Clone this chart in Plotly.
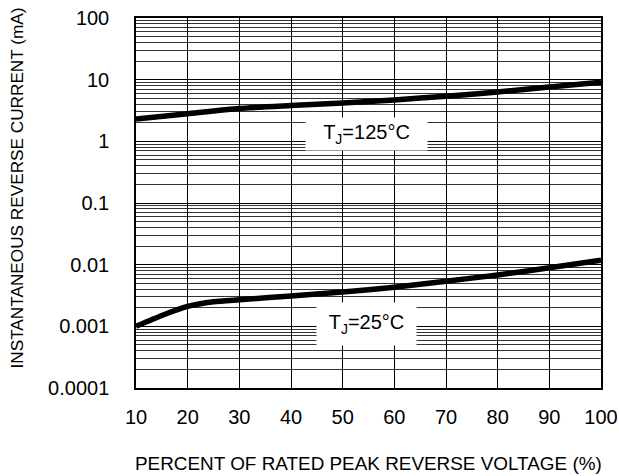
import plotly.graph_objects as go

# Data
voltage_pct = [10, 20, 30, 40, 50, 60, 70, 80, 90, 100]
ir_125C = [2.3, 2.8, 3.4, 3.8, 4.2, 4.7, 5.4, 6.3, 7.6, 9.1]
voltage_pct_25 = [10, 15, 20, 25, 30, 40, 50, 60, 70, 80, 90, 100]
ir_25C = [0.001, 0.0015, 0.0021, 0.0025, 0.0027, 0.0031, 0.0036, 0.0043, 0.0054, 0.0068, 0.0089, 0.0118]

y_tickvals = [0.0001, 0.001, 0.01, 0.1, 1, 10, 100]
y_ticktext = ["0.0001", "0.001", "0.01", "0.1", "1", "10", "100"]
x_tickvals = [10, 20, 30, 40, 50, 60, 70, 80, 90, 100]

label_125 = "T<sub>J</sub>=125°C"
label_25 = "T<sub>J</sub>=25°C"
x_title = "PERCENT OF RATED PEAK REVERSE VOLTAGE (%)"
y_title = "INSTANTANEOUS REVERSE CURRENT (mA)"

FONT = "Liberation Sans, Arial, sans-serif"

W, H = 619, 476
L, T, R, B = 136, 18, 18, 88
pw, ph = W - L - R, H - T - B

fig = go.Figure()
fig.add_trace(go.Scatter(x=voltage_pct, y=ir_125C, mode="lines",
                         line=dict(color="black", width=5.5, shape="spline", smoothing=0.6),
                         showlegend=False))
fig.add_trace(go.Scatter(x=voltage_pct_25, y=ir_25C, mode="lines",
                         line=dict(color="black", width=5.5, shape="spline", smoothing=0.6),
                         showlegend=False))

fig.add_annotation(x=54.6, y=0.127, xref="x", yref="y", yanchor="middle",
                   text=label_125, showarrow=False, bgcolor="white", borderpad=0,
                   width=121, height=32, font=dict(size=20, color="black", family=FONT))
fig.add_annotation(x=54.6, y=-2.954, xref="x", yref="y", yanchor="middle",
                   text=label_25, showarrow=False, bgcolor="white", borderpad=0,
                   width=99, height=42, font=dict(size=20, color="black", family=FONT))

# axis titles as annotations for precise placement
fig.add_annotation(xref="paper", yref="paper", x=0.5, y=(H - 463 - B) / ph,
                   xanchor="center", yanchor="middle", text=x_title,
                   showarrow=False, font=dict(size=18.9, color="black", family=FONT))
fig.add_annotation(xref="paper", yref="paper", x=(17 - L) / pw,
                   y=(H - 188.5 - B) / ph, xanchor="center", yanchor="middle",
                   text=y_title, textangle=-90, showarrow=False,
                   font=dict(size=17.2, color="black", family=FONT))

fig.update_xaxes(range=[10, 100], tickvals=x_tickvals, showgrid=True,
                 gridcolor="black", gridwidth=1, showline=True, mirror=True,
                 linecolor="black", linewidth=1.5, ticks="", zeroline=False,
                 automargin=False, ticklabelstandoff=10, ticklabeloverflow="allow",
                 tickfont=dict(size=20, color="black", family=FONT))
fig.update_yaxes(type="log", range=[-4, 2], tickvals=y_tickvals, ticktext=y_ticktext,
                 showgrid=True, gridcolor="black", gridwidth=1,
                 minor=dict(dtick="D1", showgrid=True, gridcolor="#333333", gridwidth=1, ticks=""),
                 showline=True, mirror=True, linecolor="black", linewidth=1.5, ticks="",
                 automargin=False, ticklabelstandoff=21, ticklabeloverflow="allow",
                 tickfont=dict(size=20, color="black", family=FONT))

fig.update_layout(width=W, height=H, margin=dict(l=L, r=R, t=T, b=B),
                  plot_bgcolor="white", paper_bgcolor="white",
                  font=dict(family=FONT, color="black"))

fig.write_html("out.html", config={"displayModeBar": False},
               post_script="document.body.style.margin='0';document.body.style.overflow='hidden';")
